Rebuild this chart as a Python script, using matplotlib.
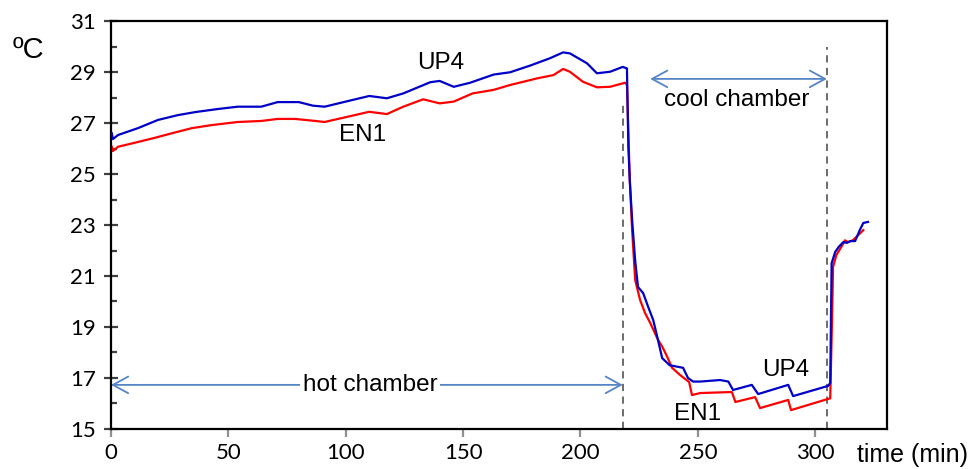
import matplotlib
matplotlib.use("Agg")
import matplotlib.pyplot as plt
from matplotlib.patches import FancyArrowPatch
from matplotlib.ticker import MultipleLocator

# UP4 (blue) - tempo em minutos e temperatura em ºC
up4_t = [0.3, 0.8, 3, 11.5, 20, 28.5, 36, 45.6, 54, 64, 71, 80, 86, 91, 100, 110,
         117.5, 124.5, 136, 140, 146, 153, 163, 170, 178.5, 187, 192.6, 195.5,
         202.8, 207, 212.6, 218, 219.8, 220.4, 221, 222, 223.3, 224.5, 226.7,
         228.8, 231, 233, 234.8, 238, 243.7, 245.8, 248, 251, 259.5, 263, 265,
         273, 275.7, 288.5, 290.6, 305.5, 306.4, 307, 308.5, 310, 312, 313.5,
         315, 317, 319, 320.5, 322.5]
up4_v = [26.6, 26.37, 26.53, 26.8, 27.12, 27.31, 27.43, 27.55, 27.64, 27.64,
         27.82, 27.82, 27.68, 27.64, 27.84, 28.06, 27.97, 28.16, 28.6, 28.65,
         28.42, 28.58, 28.9, 28.99, 29.25, 29.54, 29.77, 29.73, 29.34, 28.95,
         29.01, 29.2, 29.14, 26.06, 24.76, 23.2, 21.6, 20.57, 20.33, 19.8,
         19.27, 18.5, 17.78, 17.5, 17.4, 17.0, 16.86, 16.86, 16.92, 16.86,
         16.53, 16.73, 16.37, 16.73, 16.29, 16.69, 16.8, 21.5, 21.94, 22.14,
         22.33, 22.3, 22.37, 22.37, 22.8, 23.08, 23.12]

# EN1 (red)
en1_t = [0.3, 0.8, 3, 9, 18.7, 26, 34.5, 43, 54, 64, 71, 78.4, 86, 91, 101,
         110, 117.5, 124.5, 133, 140, 146, 154, 163, 170, 181.5, 188.5, 192.6,
         195.5, 201, 207, 212.6, 219, 219.8, 221, 222, 223.3, 225.4, 227.5,
         229.7, 233, 235, 237, 239, 242.4, 246.3, 247.5, 251, 264.5, 266,
         274.4, 276.5, 288.5, 289.7, 305.5, 306.4, 307.2, 307.6, 309, 311.5,
         312.7, 314, 316, 318.3, 320.5]
en1_v = [26.07, 25.9, 26.07, 26.2, 26.42, 26.6, 26.8, 26.92, 27.04, 27.08,
         27.16, 27.16, 27.09, 27.04, 27.25, 27.44, 27.35, 27.64, 27.93, 27.77,
         27.84, 28.16, 28.3, 28.49, 28.75, 28.88, 29.12, 29.01, 28.62, 28.4,
         28.42, 28.58, 28.5, 24.76, 22.8, 20.84, 20.06, 19.55, 19.16, 18.5,
         18.2, 17.82, 17.4, 17.12, 16.84, 16.33, 16.41, 16.45, 16.06, 16.25,
         15.82, 16.14, 15.74, 16.18, 16.2, 19.4, 21.35, 21.82, 22.2, 22.4,
         22.33, 22.4, 22.6, 22.8]

# limites das fases (min) e setas
hot_end = 218
cool_end = 305
hot_arrow_y = 16.73
cool_arrow = (229.7, 305, 28.73)

fig = plt.figure(figsize=(9.69, 4.69), dpi=100)
ax = fig.add_axes([0.1146, 0.0853, 0.8008, 0.8699])

ax.plot(up4_t, up4_v, color='#0000C8', lw=1.6, zorder=3)
ax.plot(en1_t, en1_v, color='#FF0000', lw=1.6, zorder=2)

# linhas tracejadas
ax.plot([hot_end, hot_end], [15, 27.8], color='#606060', lw=1.3,
        dashes=(4, 3), zorder=1)
ax.plot([cool_end, cool_end], [15, 30.0], color='#606060', lw=1.3,
        dashes=(4, 3), zorder=1)

arrow_color = '#5585C5'
style = '<->,head_length=0.55,head_width=0.3'
ax.add_patch(FancyArrowPatch((0, hot_arrow_y), (hot_end, hot_arrow_y),
                             arrowstyle=style, mutation_scale=20,
                             color=arrow_color, lw=1.3, shrinkA=0, shrinkB=0))
ax.add_patch(FancyArrowPatch((cool_arrow[0], cool_arrow[2]),
                             (cool_arrow[1], cool_arrow[2]),
                             arrowstyle=style, mutation_scale=20,
                             color=arrow_color, lw=1.3, shrinkA=0, shrinkB=0))

txt = dict(fontsize=17.5, family='Liberation Sans', ha='center', va='center')
ax.text(110.3, 16.73, 'hot chamber',
        bbox=dict(facecolor='white', edgecolor='none', pad=2), zorder=5, **txt)
ax.text(266.5, 27.9, 'cool chamber', **txt)
ax.text(140.4, 29.37, 'UP4', **txt)
ax.text(107, 26.53, 'EN1', **txt)
ax.text(287.6, 17.31, 'UP4', **txt)
ax.text(250, 15.59, 'EN1', **txt)

ax.set_xlim(0, 330.6)
ax.set_ylim(15, 31)
ax.set_xticks([0, 50, 100, 150, 200, 250, 300])
ax.set_yticks(range(15, 32, 2))
ax.yaxis.set_minor_locator(MultipleLocator(1))

for s in ax.spines.values():
    s.set_linewidth(1.6)
    s.set_color('black')

ax.tick_params(axis='y', which='major', direction='inout', length=10,
               width=1.6, color='#404040', pad=6, labelsize=16)
ax.tick_params(axis='y', which='minor', direction='in', length=4.5,
               width=1.6, color='#404040')
ax.tick_params(axis='x', which='major', direction='out', length=6,
               width=1.6, color='#909090', pad=4, labelsize=16)
for lab in ax.get_xticklabels() + ax.get_yticklabels():
    lab.set_family('Lato')

fig.text(0.029, 0.893, 'ºC', fontsize=21, family='Liberation Sans',
         ha='center', va='center')
fig.text(0.884, 0.030, 'time (min)', fontsize=18, family='Liberation Sans',
         ha='left', va='center')

fig.savefig('out.png', dpi=100)
